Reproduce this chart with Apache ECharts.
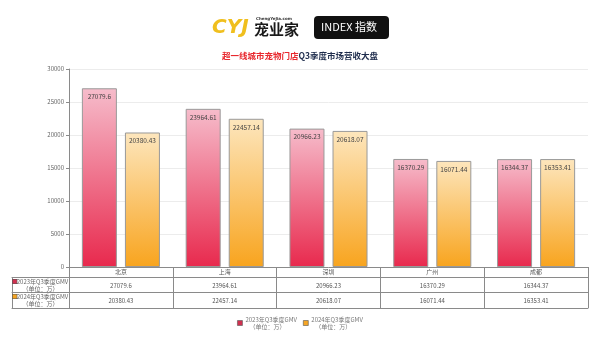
<!DOCTYPE html>
<html><head><meta charset="utf-8">
<script src="https://cdn.jsdelivr.net/npm/echarts@6/dist/echarts.min.js"></script>
<style>html,body{margin:0;padding:0;background:#fff}#c{width:600px;height:337px}</style>
</head><body><div id="c"></div>
<script>
const categories = ['北京', '上海', '深圳', '广州', '成都'];
const seriesNames = ['2023年Q3季度GMV', '2024年Q3季度GMV'];
const gmv2023 = [27079.6, 23964.61, 20966.23, 16370.29, 16344.37];
const gmv2024 = [20380.43, 22457.14, 20618.07, 16071.44, 16353.41];
const unitText = '（单位：万）';
const yMin = 0, yMax = 30000, yInterval = 5000;

const FF = '"Noto Sans CJK SC", "Noto Sans", sans-serif';
const lineC = '#8a8a8a';
const redGrad = new echarts.graphic.LinearGradient(0, 0, 0, 1, [
  {offset: 0, color: '#f6bccb'}, {offset: 1, color: '#e8294d'}]);
const yelGrad = new echarts.graphic.LinearGradient(0, 0, 0, 1, [
  {offset: 0, color: '#fde6bd'}, {offset: 1, color: '#f8a41e'}]);

function tableAxis(grid, data, offset, tick, fmt, margin) {
  return {
    type: 'category', gridIndex: grid, data: data, position: 'bottom', offset: offset,
    axisLine: {show: true, onZero: false, lineStyle: {color: lineC, width: 1}},
    axisTick: {show: tick > 0, length: tick, interval: 0, alignWithLabel: false, lineStyle: {color: lineC}},
    axisLabel: fmt ? {show: true, interval: 0, margin: margin, fontSize: 6, lineHeight: 7, align: 'center',
      color: '#555', fontFamily: FF, formatter: fmt,
      rich: {r: {width: 4, height: 4, backgroundColor: '#d0304f', borderColor: '#555', borderWidth: 0.6},
             y: {width: 4, height: 4, backgroundColor: '#f5a524', borderColor: '#555', borderWidth: 0.6},
             t: {fontSize: 6, lineHeight: 7, color: '#666', fontFamily: FF}}} : {show: false},
    splitLine: {show: false}
  };
}

const chart = echarts.init(document.getElementById('c'), null, {renderer: 'canvas'});
chart.setOption({
  backgroundColor: '#fff',
  animation: false,
  textStyle: {fontFamily: FF},
  title: {
    text: '{a|超一线城市宠物门店}{b|Q3季度市场营收大盘}',
    left: 'center', top: 47,
    textStyle: {rich: {
      a: {fontSize: 8.5, fontWeight: 'bold', color: '#e8282e', fontFamily: FF},
      b: {fontSize: 8.5, fontWeight: 'bold', color: '#1f2d4d', fontFamily: FF}
    }}
  },
  graphic: [
    {type: 'text', left: 212, top: 18, style: {text: 'CYJ', font: 'italic 900 20px "DejaVu Sans", sans-serif', fill: '#f0bf1e'}},
    {type: 'text', left: 256, top: 17, style: {text: 'ChengYeJia.com', font: 'bold 4px "DejaVu Sans"', fill: '#333'}},
    {type: 'text', left: 254, top: 22, style: {text: '宠业家', font: 'bold 15px "Noto Sans CJK SC"', fill: '#1a1a1a'}},
    {type: 'rect', left: 314, top: 16, shape: {width: 75, height: 23, r: 4}, style: {fill: '#111'}},
    {type: 'text', left: 321, top: 21, style: {text: 'INDEX 指数', font: '11px "Noto Sans CJK SC"', fill: '#fff'}}
  ],
  legend: {
    bottom: 2, left: 'center', itemWidth: 5, itemHeight: 5, itemGap: 6, icon: 'rect',
    data: [
      {name: seriesNames[0], itemStyle: {color: '#d0304f', borderColor: '#555', borderWidth: 0.6}},
      {name: seriesNames[1], itemStyle: {color: '#f5a524', borderColor: '#555', borderWidth: 0.6}}
    ],
    formatter: n => n + '\n   ' + unitText,
    textStyle: {fontSize: 6, lineHeight: 7, color: '#777', fontFamily: FF, padding: [0, 0, 0, -2]}
  },
  grid: [
    {left: 69, right: 12, top: 69, bottom: 70},
    {left: 12, width: 57, top: 69, bottom: 70}
  ],
  xAxis: [
    {type: 'category', gridIndex: 0, data: categories,
      axisLine: {show: true, onZero: false, lineStyle: {color: lineC}},
      axisTick: {show: true, length: 10, interval: 0, lineStyle: {color: lineC}},
      axisLabel: {fontSize: 6, margin: 2, color: '#555', fontFamily: FF}},
    tableAxis(0, categories, 10, 15, (v, i) => String(gmv2023[i]), 5),
    tableAxis(0, categories, 25, 16, (v, i) => String(gmv2024[i]), 5),
    tableAxis(0, categories, 41, 0, null, 0),
    tableAxis(1, [''], 10, 15, () => '{t|}{r|}{t|' + seriesNames[0] + '}\n{t|' + unitText + '}', 1),
    tableAxis(1, [''], 25, 16, () => '{t|}{y|}{t|' + seriesNames[1] + '}\n{t|' + unitText + '}', 1),
    tableAxis(1, [''], 41, 0, null, 0)
  ],
  yAxis: [
    {type: 'value', gridIndex: 0, min: yMin, max: yMax, interval: yInterval,
      axisLine: {show: true, lineStyle: {color: lineC}},
      axisTick: {show: true, length: 3, lineStyle: {color: lineC}},
      axisLabel: {fontSize: 6, color: '#666', margin: 5, fontFamily: FF, formatter: v => String(v)},
      splitLine: {show: true, lineStyle: {color: '#ececec'}}},
    {type: 'value', gridIndex: 1, show: false, min: 0, max: 1}
  ],
  series: [
    {name: seriesNames[0], type: 'bar', data: gmv2023, barWidth: 35, barGap: '23%',
      itemStyle: {color: redGrad, borderColor: '#999', borderWidth: 1},
      label: {show: true, position: 'insideTop', distance: 5, fontSize: 6.5, color: '#444', fontFamily: FF}},
    {name: seriesNames[1], type: 'bar', data: gmv2024, barWidth: 35,
      itemStyle: {color: yelGrad, borderColor: '#999', borderWidth: 1},
      label: {show: true, position: 'insideTop', distance: 5, fontSize: 6.5, color: '#444', fontFamily: FF}}
  ]
});
</script></body></html>
